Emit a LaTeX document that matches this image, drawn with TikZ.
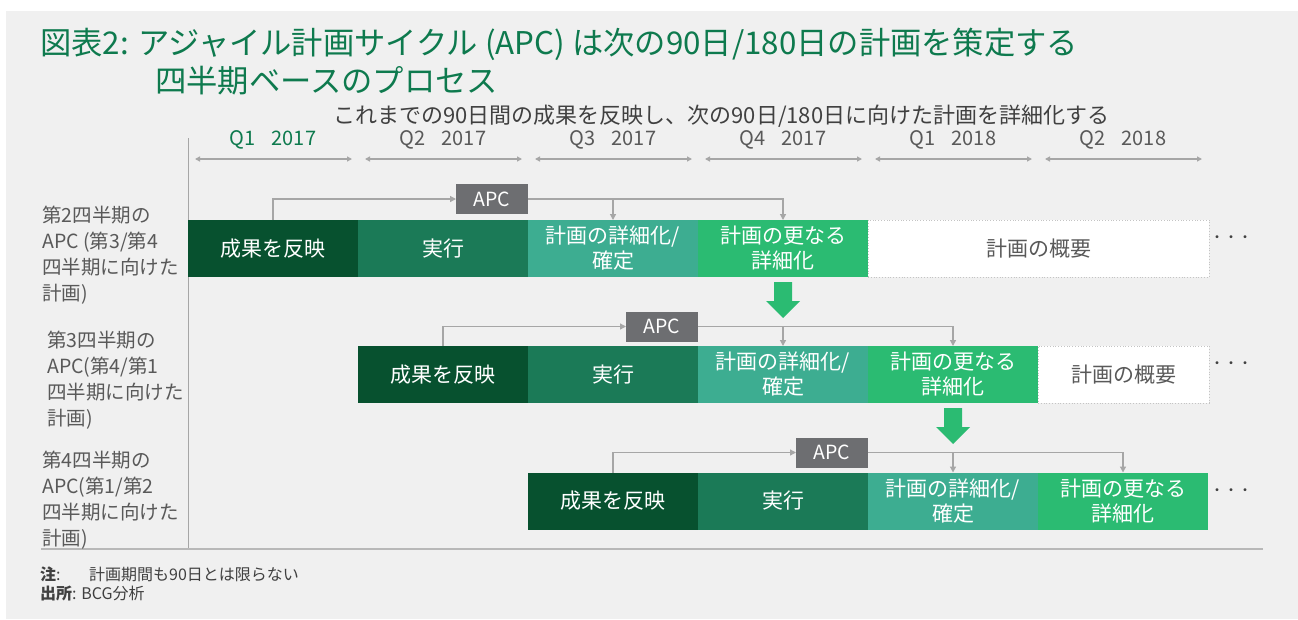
\documentclass[tikz,border=0pt]{standalone}
\usepackage{fontspec}
\setmainfont{Noto Sans CJK JP}
\usetikzlibrary{arrows.meta,calc}
\definecolor{bgc}{HTML}{F0F0F0}
\definecolor{cA}{HTML}{07512F}
\definecolor{cB}{HTML}{1B7A57}
\definecolor{cC}{HTML}{3DAD91}
\definecolor{cD}{HTML}{2BBB72}
\definecolor{titc}{HTML}{0E7A4E}
\definecolor{txg}{HTML}{595959}
\definecolor{subg}{HTML}{404040}
\definecolor{apcg}{HTML}{6D6E71}
\definecolor{lng}{HTML}{A6A6A6}
\definecolor{dotb}{HTML}{C4C4C4}
\newcommand{\fs}[2]{\fontsize{#1}{#2}\selectfont}
\newcommand{\greenarrow}[1]{%
  \fill[cD] ($(#1)+(-9,5)$) -- ($(#1)+(9,5)$) -- ($(#1)+(9,24)$) -- ($(#1)+(17,24)$)
    -- ($(#1)+(0,41)$) -- ($(#1)+(-17,24)$) -- ($(#1)+(-9,24)$) -- cycle;}
\begin{document}
\begin{tikzpicture}[x=1pt,y=-1pt,
  box/.style={minimum width=170pt,minimum height=57pt,inner sep=0pt,outer sep=0pt,
    text=white,font=\fs{21}{25},align=center},
  plainbox/.style={box,fill=white,text=txg,draw=dotb,dotted,line width=0.8pt},
  apcbox/.style={fill=apcg,text=white,minimum width=72pt,minimum height=30pt,
    inner sep=0pt,outer sep=0pt,font=\fs{19.5}{22}},
  conn/.style={draw=lng,line width=1.3pt,-{Triangle[length=6pt,width=6pt]}},
  qarrow/.style={draw=lng,line width=1.3pt,{Triangle[length=5pt,width=5pt]}-{Triangle[length=5pt,width=5pt]}},
  qlab/.style={text=txg,font=\fs{20}{22},inner sep=0pt},
  rowlab/.style={text=txg,font=\fs{19.5}{26},align=left,inner sep=0pt,anchor=north west},
  dots/.style={text=subg,font=\fs{14}{16},inner sep=0pt}
]
\useasboundingbox (0,0) rectangle (1298,619);
\fill[white] (0,0) rectangle (1298,619);
\fill[bgc] (6,11) rectangle (1298,619);

% title
\node[anchor=west,text=titc,font=\fs{31.3}{36},inner sep=0pt] (t1) at (40,44)
  {図表2: アジャイル計画サイクル (APC) は次の90日/180日の計画を策定する};
\node[anchor=west,text=titc,font=\fs{31.3}{36},inner sep=0pt] (t2) at (155,81)
  {四半期ベースのプロセス};
\node[anchor=west,text=subg,font=\fs{22}{24},inner sep=0pt] (sub) at (333,116)
  {これまでの90日間の成果を反映し、次の90日/180日に向けた計画を詳細化する};

% quarter labels and arrows
\node[qlab,text=titc] (q1) at (273,140) {Q1\hspace{0.8em}2017};
\node[qlab] (q2) at (443,140) {Q2\hspace{0.8em}2017};
\node[qlab] (q3) at (613,140) {Q3\hspace{0.8em}2017};
\node[qlab] (q4) at (783,140) {Q4\hspace{0.8em}2017};
\node[qlab] (q5) at (953,140) {Q1\hspace{0.8em}2018};
\node[qlab] (q6) at (1123,140) {Q2\hspace{0.8em}2018};
\foreach \i/\L in {1/188,2/358,3/528,4/698,5/868,6/1038}{
  \coordinate (qs\i) at (\L+7,159);
  \coordinate (qe\i) at (\L+164,159);
  \draw[qarrow] (qs\i) -- (qe\i);
}

% axes
\coordinate (axtop) at (188,138);
\coordinate (axbot) at (188,549);
\coordinate (bl) at (41,549);
\coordinate (br) at (1263,549);
\draw[draw=lng,line width=1pt] (axtop) -- (axbot);
\draw[draw=lng!80,line width=1.5pt] (bl) -- (br);

% row labels
\node[rowlab] (l1) at (42,206) {第2四半期の\\APC (第3/第4\\四半期に向けた\\計画)};
\node[rowlab] (l2) at (47,331) {第3四半期の\\APC(第4/第1\\四半期に向けた\\計画)};
\node[rowlab] (l3) at (42,451) {第4四半期の\\APC(第1/第2\\四半期に向けた\\計画)};

% row 1
\node[box,fill=cA] (r1a) at (273,248.5) {成果を反映};
\node[box,fill=cB] (r1b) at (443,248.5) {実行};
\node[box,fill=cC] (r1c) at (613,248.5) {計画の詳細化/\\確定};
\node[box,fill=cD] (r1d) at (783,248.5) {計画の更なる\\詳細化};
\node[plainbox,minimum width=341pt] (r1e) at (1038.5,248.5) {計画の概要};
\node[dots] (d1) at (1231,239) {・・・};
\node[apcbox] (apc1) at (492,199) {APC};
\draw[conn] (r1a.north) |- (apc1.west);
\draw[conn] (apc1.east) -| (r1d.north);
\draw[conn] (apc1.east -| r1c.north) -- (r1c.north);
\greenarrow{r1d.south}

% row 2
\node[box,fill=cA] (r2a) at (443,374.5) {成果を反映};
\node[box,fill=cB] (r2b) at (613,374.5) {実行};
\node[box,fill=cC] (r2c) at (783,374.5) {計画の詳細化/\\確定};
\node[box,fill=cD] (r2d) at (953,374.5) {計画の更なる\\詳細化};
\node[plainbox,minimum width=171pt] (r2e) at (1123.5,374.5) {計画の概要};
\node[dots] (d2) at (1231,365) {・・・};
\node[apcbox] (apc2) at (662,326.5) {APC};
\draw[conn] (r2a.north) |- (apc2.west);
\draw[conn] (apc2.east) -| (r2d.north);
\draw[conn] (apc2.east -| r2c.north) -- (r2c.north);
\greenarrow{r2d.south}

% row 3
\node[box,fill=cA] (r3a) at (613,501) {成果を反映};
\node[box,fill=cB] (r3b) at (783,501) {実行};
\node[box,fill=cC] (r3c) at (953,501) {計画の詳細化/\\確定};
\node[box,fill=cD] (r3d) at (1123,501) {計画の更なる\\詳細化};
\node[dots] (d3) at (1231,492) {・・・};
\node[apcbox] (apc3) at (832,452.5) {APC};
\draw[conn] (r3a.north) |- (apc3.west);
\draw[conn] (apc3.east) -| (r3d.north);
\draw[conn] (apc3.east -| r3c.north) -- (r3c.north);

% notes
\node[anchor=west,text=subg,font=\fs{16}{18},inner sep=0pt] (n1) at (40,574) {\textbf{注}:};
\node[anchor=west,text=subg,font=\fs{16}{18},inner sep=0pt] (n2) at (89,574) {計画期間も90日とは限らない};
\node[anchor=west,text=subg,font=\fs{16}{18},inner sep=0pt] (n3) at (40,593) {\textbf{出所}: BCG分析};
\end{tikzpicture}
\end{document}
